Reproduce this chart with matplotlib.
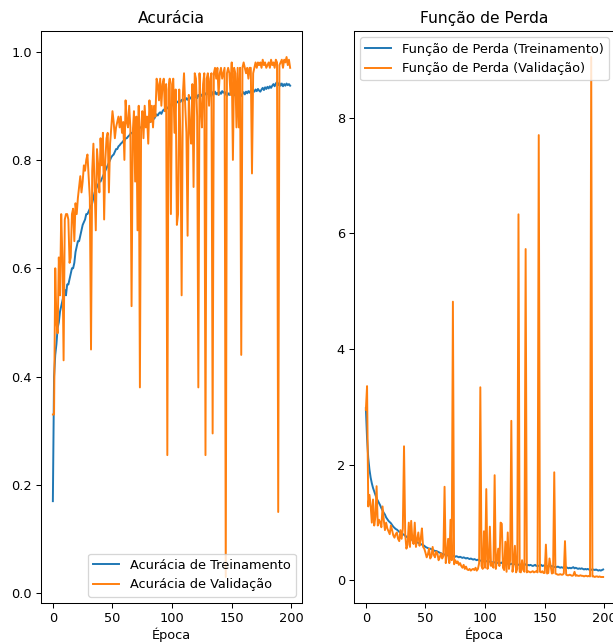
"""
plot.py  —  Acurácia / Função de Perda por época (treino vs validação)
"""
import matplotlib
matplotlib.use("Agg")
import matplotlib.pyplot as plt

EPOCAS = list(range(200))

ACC_TREINO = [
    0.17, 0.40, 0.44, 0.46, 0.49, 0.50, 0.52, 0.53, 0.54, 0.55,
    0.56, 0.55, 0.57, 0.57, 0.58, 0.59, 0.60, 0.60, 0.61, 0.63,
    0.64, 0.65, 0.65, 0.66, 0.67, 0.68, 0.685, 0.69, 0.70, 0.70,
    0.705, 0.71, 0.715, 0.72, 0.73, 0.74, 0.745, 0.75, 0.755, 0.76,
    0.76, 0.765, 0.77, 0.775, 0.78, 0.785, 0.79, 0.795, 0.80, 0.805,
    0.808, 0.81, 0.815, 0.82, 0.82, 0.825, 0.827, 0.83, 0.832, 0.835,
    0.835, 0.84, 0.84, 0.843, 0.845, 0.848, 0.85, 0.85, 0.852, 0.855,
    0.853, 0.857, 0.855, 0.86, 0.86, 0.862, 0.865, 0.863, 0.867, 0.87,
    0.868, 0.872, 0.87, 0.875, 0.878, 0.876, 0.88, 0.884, 0.882, 0.886,
    0.888, 0.885, 0.89, 0.893, 0.89, 0.895, 0.897, 0.894, 0.90, 0.902,
    0.904, 0.90, 0.905, 0.903, 0.908, 0.906, 0.91, 0.907, 0.911, 0.909,
    0.912, 0.91, 0.914, 0.911, 0.915, 0.913, 0.916, 0.912, 0.917, 0.915,
    0.918, 0.914, 0.92, 0.917, 0.921, 0.918, 0.922, 0.919, 0.923, 0.921,
    0.924, 0.92, 0.923, 0.918, 0.925, 0.922, 0.926, 0.921, 0.924, 0.92,
    0.925, 0.922, 0.927, 0.924, 0.926, 0.922, 0.918, 0.923, 0.92, 0.924,
    0.921, 0.925, 0.919, 0.923, 0.917, 0.921, 0.916, 0.92, 0.918, 0.922,
    0.925, 0.921, 0.926, 0.923, 0.927, 0.924, 0.928, 0.925, 0.929, 0.926,
    0.93, 0.927, 0.931, 0.928, 0.926, 0.93, 0.933, 0.929, 0.934, 0.931,
    0.935, 0.932, 0.936, 0.933, 0.937, 0.94, 0.936, 0.941, 0.944, 0.938,
    0.942, 0.937, 0.941, 0.936, 0.94, 0.937, 0.941, 0.938, 0.94, 0.937,
]

ACC_VAL = [
    0.33, 0.33, 0.60, 0.50, 0.48, 0.62, 0.55, 0.70, 0.62, 0.43,
    0.69, 0.70, 0.70, 0.69, 0.61, 0.62, 0.70, 0.71, 0.65, 0.72,
    0.70, 0.73, 0.75, 0.77, 0.74, 0.76, 0.79, 0.78, 0.80, 0.81,
    0.77, 0.73, 0.45, 0.78, 0.83, 0.75, 0.67, 0.82, 0.79, 0.74,
    0.84, 0.79, 0.85, 0.69, 0.80, 0.84, 0.85, 0.74, 0.83, 0.86,
    0.89, 0.87, 0.84, 0.86, 0.87, 0.88, 0.86, 0.88, 0.85, 0.87,
    0.80, 0.91, 0.87, 0.86, 0.90, 0.86, 0.53, 0.85, 0.89, 0.76,
    0.88, 0.67, 0.90, 0.38, 0.86, 0.89, 0.84, 0.90, 0.86, 0.88,
    0.83, 0.91, 0.87, 0.90, 0.86, 0.90, 0.88, 0.95, 0.94, 0.91,
    0.95, 0.90, 0.94, 0.95, 0.89, 0.94, 0.255, 0.93, 0.95, 0.70,
    0.94, 0.95, 0.85, 0.93, 0.68, 0.70, 0.93, 0.84, 0.55, 0.92,
    0.96, 0.90, 0.85, 0.66, 0.92, 0.86, 0.83, 0.94, 0.75, 0.96,
    0.95, 0.88, 0.38, 0.96, 0.90, 0.86, 0.94, 0.96, 0.255, 0.95,
    0.96, 0.90, 0.95, 0.96, 0.295, 0.96, 0.97, 0.95, 0.97, 0.92,
    0.96, 0.97, 0.95, 0.96, 0.97, 0.03, 0.96, 0.97, 0.96, 0.92,
    0.98, 0.80, 0.97, 0.96, 0.86, 0.97, 0.86, 0.97, 0.44, 0.97,
    0.98, 0.97, 0.96, 0.97, 0.95, 0.97, 0.97, 0.775, 0.96, 0.97,
    0.98, 0.97, 0.98, 0.975, 0.98, 0.97, 0.985, 0.975, 0.98, 0.97,
    0.975, 0.98, 0.97, 0.985, 0.975, 0.98, 0.97, 0.985, 0.98, 0.15,
    0.975, 0.98, 0.985, 0.97, 0.985, 0.98, 0.99, 0.975, 0.985, 0.97,
]

PERDA_TREINO = [
    2.98, 2.45, 2.12, 1.92, 1.78, 1.68, 1.60, 1.54, 1.48, 1.42,
    1.38, 1.34, 1.30, 1.25, 1.21, 1.17, 1.14, 1.09, 1.06, 1.03,
    1.01, 0.99, 0.96, 0.93, 0.91, 0.89, 0.88, 0.86, 0.84, 0.83,
    0.82, 0.80, 0.79, 0.77, 0.76, 0.74, 0.73, 0.72, 0.71, 0.70,
    0.69, 0.68, 0.67, 0.66, 0.65, 0.64, 0.63, 0.62, 0.61, 0.60,
    0.58, 0.57, 0.56, 0.55, 0.55, 0.54, 0.53, 0.52, 0.51, 0.51,
    0.50, 0.49, 0.48, 0.47, 0.46, 0.45, 0.45, 0.44, 0.44, 0.43,
    0.43, 0.44, 0.42, 0.42, 0.43, 0.41, 0.42, 0.41, 0.40, 0.41,
    0.40, 0.39, 0.40, 0.39, 0.38, 0.39, 0.38, 0.37, 0.38, 0.37,
    0.36, 0.37, 0.36, 0.35, 0.36, 0.35, 0.34, 0.35, 0.34, 0.33,
    0.34, 0.33, 0.34, 0.32, 0.33, 0.32, 0.31, 0.32, 0.31, 0.32,
    0.31, 0.30, 0.31, 0.30, 0.31, 0.29, 0.30, 0.29, 0.30, 0.29,
    0.30, 0.28, 0.29, 0.28, 0.29, 0.28, 0.27, 0.28, 0.27, 0.28,
    0.27, 0.28, 0.26, 0.27, 0.28, 0.26, 0.27, 0.26, 0.27, 0.26,
    0.25, 0.26, 0.27, 0.25, 0.26, 0.25, 0.26, 0.27, 0.25, 0.26,
    0.25, 0.26, 0.24, 0.25, 0.26, 0.24, 0.25, 0.24, 0.23, 0.24,
    0.23, 0.24, 0.23, 0.22, 0.23, 0.22, 0.23, 0.22, 0.23, 0.22,
    0.21, 0.22, 0.21, 0.22, 0.23, 0.21, 0.22, 0.21, 0.20, 0.21,
    0.20, 0.21, 0.20, 0.19, 0.20, 0.19, 0.20, 0.19, 0.18, 0.19,
    0.18, 0.19, 0.18, 0.19, 0.18, 0.17, 0.18, 0.17, 0.18, 0.19,
]

PERDA_VAL = [
    2.95, 3.36, 1.28, 1.48, 1.30, 1.00, 1.40, 0.95, 1.10, 1.63,
    0.95, 1.05, 1.00, 0.92, 1.28, 1.05, 0.87, 1.00, 0.90, 0.85,
    0.80, 0.95, 0.87, 0.78, 0.74, 0.80, 0.83, 0.72, 0.68, 0.87,
    0.72, 0.90, 2.32, 0.80, 0.55, 0.62, 1.00, 0.58, 1.03, 0.70,
    0.63, 1.00, 0.58, 0.70, 0.83, 0.60, 0.72, 0.90, 0.58, 0.55,
    0.48, 0.40, 0.45, 0.55, 0.38, 0.42, 0.58, 0.44, 0.40, 0.50,
    0.47, 0.35, 0.40, 0.47, 0.38, 0.42, 1.62, 0.30, 0.45, 0.72,
    0.30, 1.05, 0.35, 4.82, 0.28, 0.35, 0.30, 0.33, 0.27, 0.30,
    0.25, 0.22, 0.27, 0.20, 0.24, 0.19, 0.18, 0.20, 0.17, 0.19,
    0.20, 0.18, 0.22, 0.17, 0.20, 0.30, 3.34, 0.25, 0.20, 0.85,
    0.22, 1.58, 0.20, 0.28, 0.93, 0.25, 0.30, 0.22, 1.82, 0.20,
    0.35, 0.55, 0.25, 1.00, 0.98, 0.22, 0.18, 0.67, 0.15, 0.83,
    0.20, 0.35, 2.76, 0.15, 0.30, 0.60, 0.14, 0.20, 6.33, 0.15,
    0.14, 0.35, 0.18, 0.15, 5.73, 0.14, 0.16, 0.15, 0.14, 0.15,
    0.16, 0.14, 0.15, 0.16, 0.14, 7.70, 0.15, 0.14, 0.16, 0.13,
    0.13, 0.62, 0.12, 0.13, 0.38, 0.25, 0.12, 0.13, 1.87, 0.12,
    0.11, 0.10, 0.10, 0.11, 0.10, 0.10, 0.12, 0.68, 0.10, 0.09,
    0.09, 0.10, 0.09, 0.08, 0.09, 0.15, 0.08, 0.09, 0.08, 0.08,
    0.09, 0.08, 0.08, 0.07, 0.08, 0.08, 0.07, 0.08, 0.07, 9.05,
    0.07, 0.07, 0.06, 0.07, 0.07, 0.06, 0.07, 0.06, 0.06, 0.06,
]

# screenshot looks like a ~0.93x downscale of a standard 100 dpi figure
W, H, DPI = 613, 643, 93
fig = plt.figure(figsize=(W/DPI, H/DPI), dpi=DPI)

# left panel: accuracy
ax1 = fig.add_axes([41/W, (H-603)/H, 261/W, 572/H])
ax1.plot(EPOCAS, ACC_TREINO, label="Acurácia de Treinamento")
ax1.plot(EPOCAS, ACC_VAL, label="Acurácia de Validação")
ax1.set_title("Acurácia")
ax1.set_xlabel("Época", labelpad=2)
ax1.legend(loc="lower right")

# right panel: loss (runs off the right edge, like the original screenshot)
ax2 = fig.add_axes([354/W, (H-603)/H, 261/W, 572/H])
ax2.plot(EPOCAS, PERDA_TREINO, label="Função de Perda (Treinamento)")
ax2.plot(EPOCAS, PERDA_VAL, label="Função de Perda (Validação)")
ax2.set_title("Função de Perda")
ax2.set_xlabel("Época", labelpad=2)
ax2.legend(loc="upper right")

fig.savefig("out.png", dpi=DPI)
plt.close(fig)
